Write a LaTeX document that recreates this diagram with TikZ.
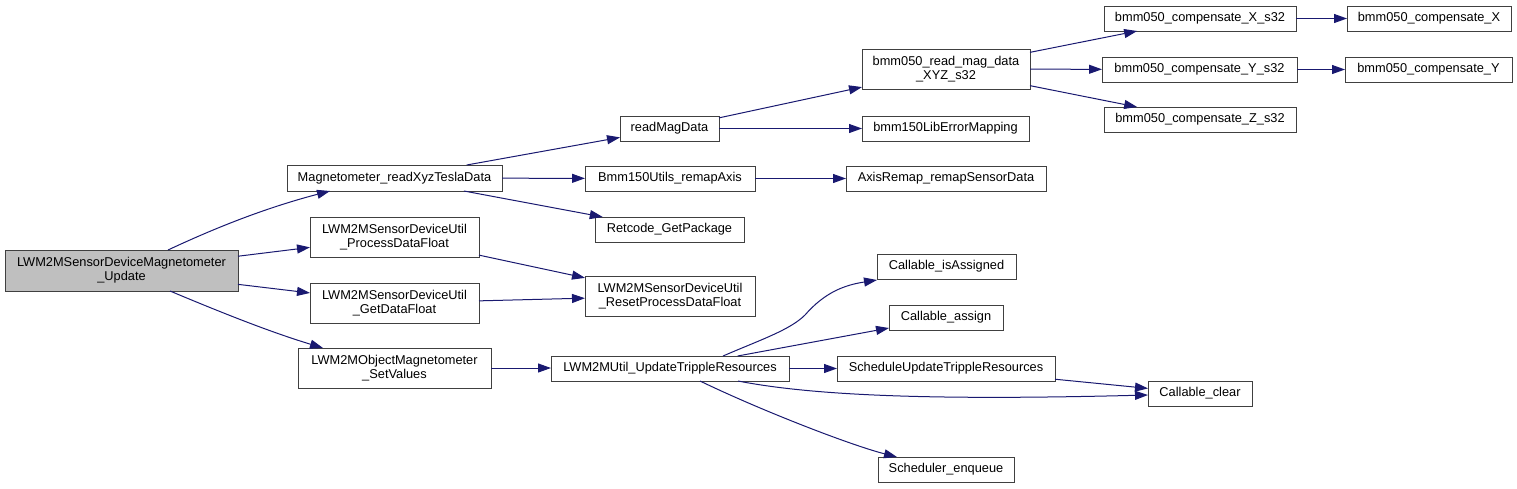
\documentclass[tikz,border=0pt]{standalone}
\usepackage{fontspec}
\setmainfont{Liberation Sans}
\usetikzlibrary{arrows.meta}
\definecolor{edgec}{HTML}{191970}
\definecolor{nodeb}{HTML}{404040}
\definecolor{mainfill}{HTML}{BFBFBF}
\begin{document}
\begin{tikzpicture}[x=1pt,y=-1pt,
  fn/.style={draw=nodeb, line width=1pt, fill=white, inner sep=0pt, outer sep=0pt,
    font=\fontsize{12.8}{14}\selectfont, align=center, text=black},
  call/.style={draw=edgec, line width=1pt, -{Triangle[length=13pt,width=9pt]}},
]
\useasboundingbox (0,0) rectangle (1517,488);
% nodes
\node[fn, fill=mainfill, minimum width=233pt, minimum height=41pt] (main) at (121.5,270.5) {LWM2MSensorDeviceMagnetometer\\\_Update};
\node[fn, minimum width=215pt, minimum height=26pt] (mag) at (394.5,178) {Magnetometer\_readXyzTeslaData};
\node[fn, minimum width=169pt, minimum height=40pt] (proc) at (394.5,237) {LWM2MSensorDeviceUtil\\\_ProcessDataFloat};
\node[fn, minimum width=169pt, minimum height=40pt] (getd) at (394.5,303) {LWM2MSensorDeviceUtil\\\_GetDataFloat};
\node[fn, minimum width=193pt, minimum height=40pt] (setv) at (394.5,368) {LWM2MObjectMagnetometer\\\_SetValues};
\node[fn, minimum width=99pt, minimum height=25pt] (readmag) at (669.5,128.5) {readMagData};
\node[fn, minimum width=170pt, minimum height=25pt] (remap) at (670,178.5) {Bmm150Utils\_remapAxis};
\node[fn, minimum width=149pt, minimum height=25pt] (retcode) at (669.5,229.5) {Retcode\_GetPackage};
\node[fn, minimum width=170pt, minimum height=40pt] (reset) at (670,296) {LWM2MSensorDeviceUtil\\\_ResetProcessDataFloat};
\node[fn, minimum width=238pt, minimum height=25pt] (update) at (670,368.5) {LWM2MUtil\_UpdateTrippleResources};
\node[fn, minimum width=168pt, minimum height=40pt] (readxyz) at (946,69) {bmm050\_read\_mag\_data\\\_XYZ\_s32};
\node[fn, minimum width=167pt, minimum height=25pt] (liberr) at (945.5,128.5) {bmm150LibErrorMapping};
\node[fn, minimum width=200pt, minimum height=25pt] (axis) at (946,178.5) {AxisRemap\_remapSensorData};
\node[fn, minimum width=139pt, minimum height=25pt] (isass) at (946.5,266.5) {Callable\_isAssigned};
\node[fn, minimum width=114pt, minimum height=25pt] (assign) at (946,317.5) {Callable\_assign};
\node[fn, minimum width=218pt, minimum height=25pt] (sched) at (946,368.5) {ScheduleUpdateTrippleResources};
\node[fn, minimum width=136pt, minimum height=25pt] (enq) at (946,469.5) {Scheduler\_enqueue};
\node[fn, minimum width=192pt, minimum height=25pt] (cxs) at (1200,18.5) {bmm050\_compensate\_X\_s32};
\node[fn, minimum width=195pt, minimum height=25pt] (cys) at (1199.5,69.5) {bmm050\_compensate\_Y\_s32};
\node[fn, minimum width=192pt, minimum height=25pt] (czs) at (1200,119.5) {bmm050\_compensate\_Z\_s32};
\node[fn, minimum width=104pt, minimum height=25pt] (clear) at (1200,393.5) {Callable\_clear};
\node[fn, minimum width=164pt, minimum height=25pt] (cx) at (1429,18.5) {bmm050\_compensate\_X};
\node[fn, minimum width=167pt, minimum height=25pt] (cy) at (1428.5,69.5) {bmm050\_compensate\_Y};
% edges
\draw[call] ([xshift=46.5pt]main.north) .. controls (215,228) and (265,208) .. ([xshift=-64.5pt]mag.south);
\draw[call] (main) -- (proc);
\draw[call] (main) -- (getd);
\draw[call] ([xshift=48.5pt]main.south) .. controls (220,312) and (270,332) .. ([xshift=-71.5pt]setv.north);
\draw[call] (mag) -- (readmag);
\draw[call] (mag) -- (remap);
\draw[call] (mag) -- (retcode);
\draw[call] (proc) -- (reset);
\draw[call] (getd) -- (reset);
\draw[call] (setv.east) -- (update.west |- setv.east);
\draw[call] (readmag) -- (readxyz);
\draw[call] (readmag) -- (liberr);
\draw[call] (remap) -- (axis);
\draw[call] (readxyz) -- (cxs);
\draw[call] (readxyz) -- (cys);
\draw[call] (readxyz) -- (czs);
\draw[call] (cxs) -- (cx);
\draw[call] (cys) -- (cy);
\draw[call] ([xshift=53pt]update.north) .. controls (760,340) and (790,330) .. (805,315)
  .. controls (825,292) and (845,285) .. ([xshift=-69.5pt,yshift=-1pt]isass.south);
\draw[call] (update) -- (assign);
\draw[call] (update) -- (sched);
\draw[call] ([xshift=68pt]update.south) .. controls (820,397) and (950,400) .. ([yshift=-1.5pt]clear.west);
\draw[call] (sched) -- (clear);
\draw[call] ([xshift=30pt]update.south) .. controls (760,410) and (850,445) .. ([xshift=-49pt]enq.north);
\end{tikzpicture}
\end{document}
